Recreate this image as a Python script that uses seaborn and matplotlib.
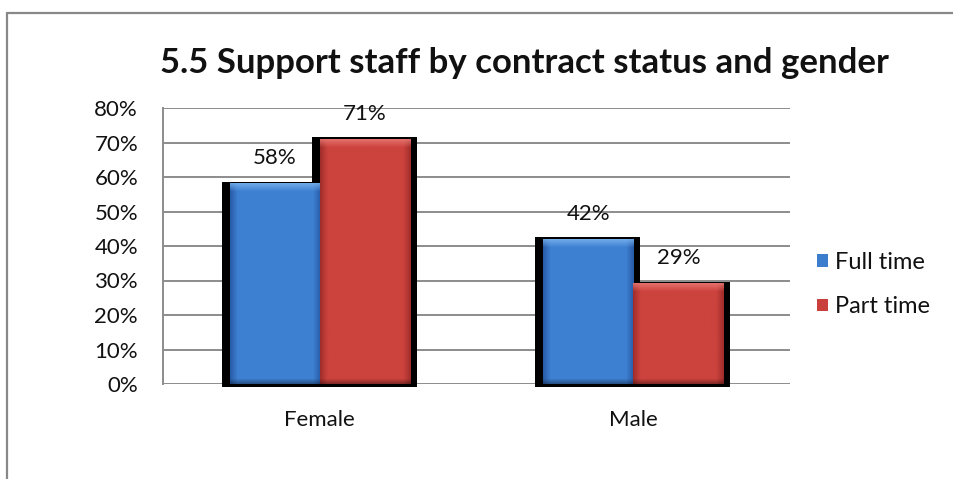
import numpy as np
import pandas as pd
import matplotlib
matplotlib.use("Agg")
import matplotlib.pyplot as plt
from matplotlib.patches import Rectangle
from matplotlib.lines import Line2D
import seaborn as sns

# Chart data
genders = ["Female", "Male"]
contracts = ["Full time", "Part time"]
full_time = [0.58, 0.42]
part_time = [0.71, 0.29]
y_ticks = [0.0, 0.1, 0.2, 0.3, 0.4, 0.5, 0.6, 0.7, 0.8]
title = "5.5 Support staff by contract status and gender"

df = pd.DataFrame({
    "gender": genders * 2,
    "contract": [contracts[0]] * 2 + [contracts[1]] * 2,
    "share": full_time + part_time,
})

sns.set_theme(style="white")
plt.rcParams["font.family"] = ["Lato", "DejaVu Sans"]

W, H = 954, 479
fig = plt.figure(figsize=(W / 100, H / 100), dpi=100)
fig.patch.set_facecolor("white")

# outer frame lines (top and left)
fig.add_artist(Line2D([7 / W, 1.0], [1 - 13 / H, 1 - 13 / H], color="#888888", lw=1.6,
                      transform=fig.transFigure))
fig.add_artist(Line2D([7 / W, 7 / W], [0.0, 1 - 13 / H], color="#888888", lw=1.6,
                      transform=fig.transFigure))

ax = fig.add_axes([163 / W, 95 / H, 627 / W, 276 / H])

base = {"Full time": "#3c7dcd", "Part time": "#c9403d"}
sns.barplot(data=df, x="gender", y="share", hue="contract", order=genders,
            hue_order=contracts, palette=base, width=0.575, saturation=1,
            edgecolor="none", linewidth=0, ax=ax, legend=False, zorder=3)

ax.set_ylim(0, 0.8)
ax.set_xlim(-0.5, 1.5)

# colour ramps for the bevelled bars: (edge, centre, highlight)
ramps = {
    "Full time": ((0.16, 0.36, 0.66), (0.24, 0.50, 0.82), (0.50, 0.72, 0.95)),
    "Part time": ((0.63, 0.18, 0.17), (0.80, 0.26, 0.24), (0.93, 0.50, 0.48)),
}

px_x = 2.0 / 627   # data units per pixel, x
px_y = 0.8 / 276   # data units per pixel, y
FS = 16

for cont, container in zip(contracts, ax.containers):
    edge, mid, hi = [np.array(c) for c in ramps[cont]]
    for bar in container:
        x0, w, h = bar.get_x(), bar.get_width(), bar.get_height()
        # drop shadow behind the bar
        ax.add_patch(Rectangle((x0 - 8 * px_x, -3 * px_y), w + 15 * px_x, h + 5 * px_y,
                               facecolor="black", edgecolor="none", zorder=2, clip_on=False))
        # bevel shading
        nx, ny = 90, max(int(h / px_y), 2)
        u = np.linspace(0, 1, nx)
        prof = np.clip(np.minimum(u, 1 - u) / 0.08, 0, 1)
        img = edge[None, None, :] + (mid - edge)[None, None, :] * prof[None, :, None]
        img = np.repeat(img, ny, axis=0)
        v = np.linspace(0, 1, ny)[:, None]  # 0 at top
        top = np.clip(1 - v * ny / 8.0, 0, 1)
        img = img * (1 - 0.75 * top[..., None]) + hi[None, None, :] * 0.75 * top[..., None]
        bot = np.clip((v * ny - (ny - 5)) / 5.0, 0, 1)
        img = img * (1 - 0.35 * bot[..., None])
        ax.imshow(np.clip(img, 0, 1), extent=(x0, x0 + w, 0, h), aspect="auto",
                  zorder=4, interpolation="bilinear")
        ax.text(x0 + w / 2, h + 0.074, f"{round(h * 100)}%", ha="center", va="center",
                fontsize=FS, color="#111111", zorder=5)

ax.set_xlim(-0.5, 1.5)
ax.set_ylim(0, 0.8)

ax.set_yticks(y_ticks)
ax.set_yticklabels([f"{int(round(t * 100))}%" for t in y_ticks], fontsize=FS, color="#111111")
ax.tick_params(axis="y", length=0, pad=18)
ax.tick_params(axis="x", length=0, pad=19, labelsize=FS, labelcolor="#111111")
ax.yaxis.grid(True, color="#8c8c8c", lw=1.4)
ax.set_axisbelow(True)
for s in ["top", "right", "bottom"]:
    ax.spines[s].set_visible(False)
ax.spines["left"].set_color("#8c8c8c")
ax.spines["left"].set_linewidth(1.4)
ax.set_xlabel("")
ax.set_ylabel("")

handles = [Rectangle((0, 0), 1, 1, facecolor=base[c], edgecolor="none") for c in contracts]
fig.legend(handles, contracts, loc="center left", bbox_to_anchor=(817 / W, 1 - 284.5 / H),
           frameon=False, fontsize=17, handlelength=0.45, handleheight=0.45,
           handletextpad=0.3, labelspacing=1.0, borderpad=0, borderaxespad=0,
           labelcolor="#111111")

fig.text(524 / W, 1 - 73 / H, title, ha="center", va="baseline", fontsize=25,
         fontweight="bold", color="#111111")

fig.savefig("out.png", dpi=100, facecolor="white")
